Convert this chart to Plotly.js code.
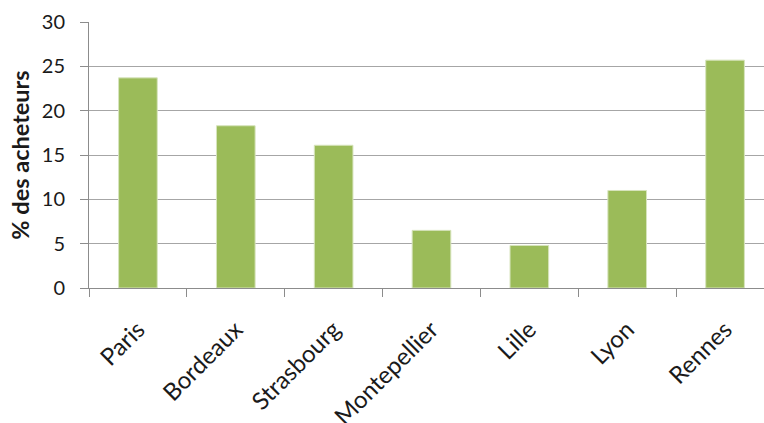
<!DOCTYPE html>
<html>
<head>
<meta charset="utf-8">
<script src="https://cdn.plot.ly/plotly-3.0.1.min.js"></script>
<style>html,body{margin:0;padding:0;background:#fff;}#chart{width:764px;height:423px;}</style>
</head>
<body>
<div id="chart"></div>
<script>
const cities = ["Paris", "Bordeaux", "Strasbourg", "Montepellier", "Lille", "Lyon", "Rennes"];
const percentBuyers = [23.7, 18.3, 16.1, 6.5, 4.8, 11.0, 25.7];
const yTickValues = [0, 5, 10, 15, 20, 25, 30];
const yAxisTitle = "% des acheteurs";

const trace = {
  type: "bar",
  x: cities,
  y: percentBuyers,
  marker: {color: "#9bbb59", line: {color: "#d7e4bd", width: 1}},
  hoverinfo: "x+y"
};

const layout = {
  width: 764,
  height: 423,
  margin: {l: 89, r: 0, t: 22, b: 135, pad: 0},
  paper_bgcolor: "#ffffff",
  plot_bgcolor: "#ffffff",
  font: {family: "Lato, 'Liberation Sans', sans-serif", size: 18, color: "#1a1a1a"},
  bargap: 0.605,
  showlegend: false,
  xaxis: {
    type: "category",
    range: [-0.5, 6.398],
    tickson: "boundaries",
    ticks: "outside",
    ticklen: 8,
    tickcolor: "#8c8c8c",
    tickwidth: 1,
    tickangle: -45,
    ticklabelstandoff: 17,
    showline: true,
    linecolor: "#8c8c8c",
    linewidth: 1,
    showgrid: false,
    zeroline: false,
    tickfont: {size: 24, color: "#1a1a1a"}
  },
  yaxis: {
    range: [0, 30],
    tickvals: yTickValues,
    ticks: "outside",
    ticklen: 8,
    tickcolor: "#8c8c8c",
    ticklabelstandoff: 11,
    showline: true,
    linecolor: "#8c8c8c",
    linewidth: 1,
    showgrid: true,
    gridcolor: "#a6a6a6",
    gridwidth: 1,
    zeroline: false,
    tickfont: {size: 20, color: "#1a1a1a"},
    title: {text: "<b>" + yAxisTitle + "</b>", font: {size: 23.5, color: "#1a1a1a"}, standoff: 5}
  }
};

Plotly.newPlot("chart", [trace], layout, {displayModeBar: false, staticPlot: true});
</script>
</body>
</html>
